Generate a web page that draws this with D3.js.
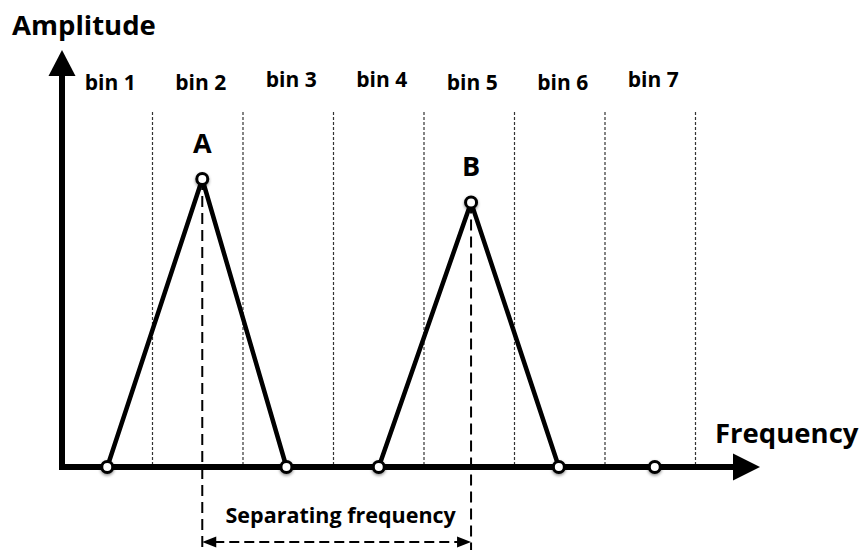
<!DOCTYPE html>
<html>
<head>
  <title>Frequency bins</title>
  <script src="https://d3js.org/d3.v7.min.js"></script>
  <style>
    body { margin: 0; background: #fff; }
    text { font-family: "Open Sans", "Noto Sans", sans-serif; font-weight: 700; fill: #000; }
  </style>
</head>
<body>
  <svg id="chart"></svg>

  <script>
    // bins along the frequency axis
    var binLabels = ["bin 1", "bin 2", "bin 3", "bin 4", "bin 5", "bin 6", "bin 7"];

    // peak A (left triangle): frequency in bin units, amplitude 0..1
    var peakAFreq = [0.5, 1.55, 2.48];
    var peakAAmp  = [0, 0.8, 0];

    // peak B (right triangle)
    var peakBFreq = [3.5, 4.52, 5.49];
    var peakBAmp  = [0, 0.735, 0];

    // lone point in bin 7
    var extraFreq = [6.55];
    var extraAmp  = [0];

    var peakNames = ["A", "B"];

    var width = 862, height = 550;
    var svg = d3.select("#chart").attr("width", width).attr("height", height);

    var x = d3.scaleLinear().domain([0, binLabels.length]).range([62, 695.5]);
    var y = d3.scaleLinear().domain([0, 1]).range([467, 107]);

    // drop shadow for the circles
    var defs = svg.append("defs");
    var f = defs.append("filter").attr("id", "shadow")
      .attr("x", "-50%").attr("y", "-50%").attr("width", "200%").attr("height", "200%");
    f.append("feDropShadow").attr("dx", 0).attr("dy", 1.5)
      .attr("stdDeviation", 1.5).attr("flood-color", "#000").attr("flood-opacity", 0.45);

    // bin separators
    svg.append("g").selectAll("line")
      .data(d3.range(1, binLabels.length + 1))
      .enter().append("line")
      .attr("x1", d => x(d)).attr("x2", d => x(d))
      .attr("y1", 112).attr("y2", y(0))
      .attr("stroke", "#333").attr("stroke-width", 1.2)
      .attr("stroke-dasharray", "3,2");

    // bin labels
    svg.append("g").selectAll("text")
      .data(binLabels)
      .enter().append("text")
      .attr("x", (d, i) => x(i + 0.5) + 3)
      .attr("y", (d, i) => (i % 4 === 2 || i % 4 === 3) ? 87 : 90)
      .attr("text-anchor", "middle")
      .attr("font-size", 21)
      .text(d => d);

    // axes
    var axisG = svg.append("g");
    axisG.append("line")
      .attr("x1", 62).attr("x2", 62)
      .attr("y1", 470).attr("y2", 72)
      .attr("stroke", "#000").attr("stroke-width", 6);
    axisG.append("path")
      .attr("d", "M62,50 L75.5,76 L48.5,76 Z").attr("fill", "#000");
    axisG.append("line")
      .attr("x1", 59).attr("x2", 738)
      .attr("y1", 467).attr("y2", 467)
      .attr("stroke", "#000").attr("stroke-width", 6);
    axisG.append("path")
      .attr("d", "M760,467 L733,453.5 L733,480.5 Z").attr("fill", "#000");

    axisG.append("text").attr("x", 12).attr("y", 35)
      .attr("font-size", 27.5).text("Amplitude");
    axisG.append("text").attr("x", 715).attr("y", 443)
      .attr("font-size", 27.5).text("Frequency");

    // separating frequency guides
    var peakX = [x(peakAFreq[1]), x(peakBFreq[1])];
    var guide = svg.append("g");
    guide.selectAll("line.v")
      .data(peakX).enter().append("line")
      .attr("class", "v")
      .attr("x1", d => d).attr("x2", d => d)
      .attr("y1", (d, i) => i === 0 ? y(peakAAmp[1]) : y(peakBAmp[1]))
      .attr("y2", 550)
      .attr("stroke", "#000").attr("stroke-width", 2)
      .attr("stroke-dasharray", "11,6");

    var arrowY = 542;
    guide.append("line")
      .attr("x1", peakX[0] + 12).attr("x2", peakX[1] - 12)
      .attr("y1", arrowY).attr("y2", arrowY)
      .attr("stroke", "#000").attr("stroke-width", 2.2)
      .attr("stroke-dasharray", "10,5");
    guide.append("path")
      .attr("d", "M" + peakX[0] + "," + arrowY + " l14,-5.5 l0,11 Z").attr("fill", "#000");
    guide.append("path")
      .attr("d", "M" + peakX[1] + "," + arrowY + " l-14,-5.5 l0,11 Z").attr("fill", "#000");
    guide.append("text")
      .attr("x", (peakX[0] + peakX[1]) / 2 + 4).attr("y", 523)
      .attr("text-anchor", "middle").attr("font-size", 21.5)
      .text("Separating frequency");

    // triangles
    var line = d3.line().x(d => x(d[0])).y(d => y(d[1]));
    var peaks = [d3.zip(peakAFreq, peakAAmp), d3.zip(peakBFreq, peakBAmp)];
    svg.append("g").selectAll("path")
      .data(peaks).enter().append("path")
      .attr("d", line)
      .attr("fill", "none").attr("stroke", "#000")
      .attr("stroke-width", 4.5).attr("stroke-linejoin", "round");

    // points
    var pts = peaks[0].concat(peaks[1], d3.zip(extraFreq, extraAmp));
    svg.append("g").selectAll("circle")
      .data(pts).enter().append("circle")
      .attr("cx", d => x(d[0])).attr("cy", d => y(d[1]))
      .attr("r", 5.5)
      .attr("fill", "#fff").attr("stroke", "#000").attr("stroke-width", 3)
      .attr("filter", "url(#shadow)");

    // peak letters
    svg.append("g").selectAll("text")
      .data(peakNames).enter().append("text")
      .attr("x", (d, i) => peakX[i])
      .attr("y", (d, i) => y(peaks[i][1][1]) - 26)
      .attr("text-anchor", "middle").attr("font-size", 27)
      .text(d => d);
  </script>
</body>
</html>
